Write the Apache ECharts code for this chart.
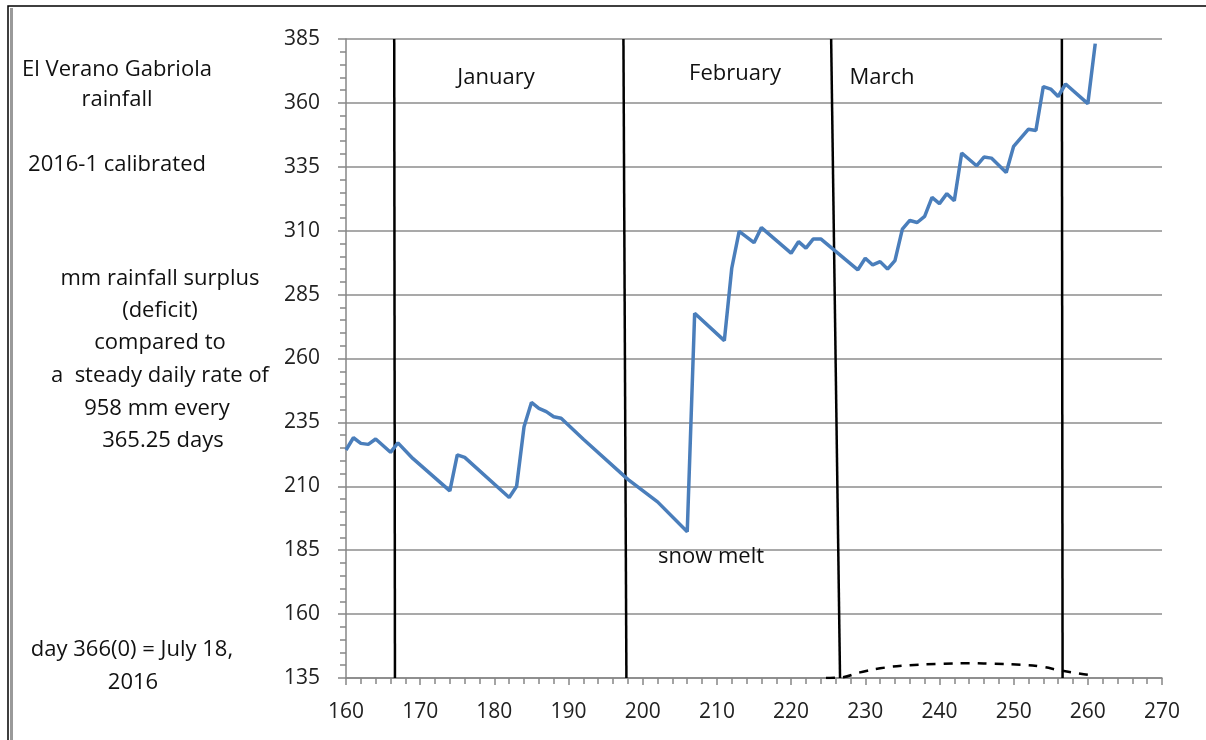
<!DOCTYPE html>
<html>
<head>
<meta charset="utf-8">
<title>El Verano Gabriola rainfall</title>
<script src="https://cdn.jsdelivr.net/npm/echarts@6/dist/echarts.min.js"></script>
<style>
html, body { margin: 0; padding: 0; background: #fff; }
#chart { width: 1206px; height: 740px; }
</style>
</head>
<body>
<div id="chart"></div>
<script>
// day number (day 366(0) = July 18, 2016) and mm surplus, read at the line's corners
var days = [160, 161, 162, 163, 164, 166, 167, 169, 174, 175, 176, 182, 183, 184, 185, 186, 187, 188, 189, 192,
    198, 202, 206, 207, 211, 212, 213, 215, 216, 220, 221, 222, 223, 224, 229, 230, 231, 232, 233, 234,
    235, 236, 237, 238, 239, 240, 241, 242, 243, 245, 246, 247, 249, 250, 252, 253, 254, 255, 256, 257, 260, 261];
var surplus = [224.2, 229, 226.8, 226.4, 228.5, 223.3, 227, 220.9, 208.2, 222.3, 221.3, 205.6, 210, 233.3, 242.8, 240.5, 239.2, 237.2, 236.6, 228.4,
    212.7, 203.9, 192.2, 277.7, 267, 295.3, 309.7, 305.3, 311.2, 301.2, 305.7, 303.2, 306.8, 306.8, 294.7, 299.2, 296.6, 297.9, 295, 298.3,
    310.6, 314, 313.2, 315.6, 323, 320.6, 324.5, 321.7, 340.4, 335.4, 338.8, 338.4, 332.8, 343, 349.7, 349.2, 366.4, 365.4, 362.5, 367.4, 359.7, 383.2];

// dashed curve near the bottom
var dashDays = [224.7, 226.6, 229.3, 232, 236, 240, 244, 247, 251, 253.6, 256.6, 260];
var dashValues = [135, 135.2, 137.2, 138.8, 140, 140.5, 140.8, 140.6, 140.2, 139.5, 137.8, 136.3];

// month boundary lines (slightly slanted in the original)
var monthTopDays = [166.5, 197.4, 225.4, 256.5];
var monthBottomDays = [166.6, 197.8, 226.6, 256.6];
var monthNames = ['January', 'February', 'March'];

var yTicks = [135, 160, 185, 210, 235, 260, 285, 310, 335, 360, 385];

var font = '"Open Sans", "Liberation Sans", sans-serif';
var chart = echarts.init(document.getElementById('chart'));

var series = [];
// vertical month lines
for (var i = 0; i < monthTopDays.length; i++) {
    series.push({
        type: 'line',
        silent: true,
        symbol: 'none',
        z: 3,
        lineStyle: { color: '#000', width: 2.5 },
        data: [[monthTopDays[i], yTicks[yTicks.length - 1]], [monthBottomDays[i], yTicks[0]]]
    });
}
series.push({
    name: 'surplus',
    type: 'line',
    symbol: 'none',
    z: 4,
    lineStyle: { color: '#4a7ebb', width: 3.5 },
    data: days.map(function (d, k) { return [d, surplus[k]]; })
});
series.push({
    type: 'line',
    symbol: 'none',
    smooth: true,
    z: 4,
    lineStyle: { color: '#000', width: 2.5, type: [9, 8] },
    data: dashDays.map(function (d, k) { return [d, dashValues[k]]; })
});

function txt(s, x, y, size) {
    return {
        type: 'text', x: x, y: y, z: 10,
        style: { text: s, fill: '#111', font: (size || 22) + 'px ' + font, textAlign: 'center', textVerticalAlign: 'middle' }
    };
}

var graphics = [
    // window frame on the left/top
    { type: 'rect', shape: { x: 8, y: 6, width: 1400, height: 900 }, style: { fill: 'none', stroke: '#000', lineWidth: 1.5 } },
    { type: 'line', shape: { x1: 11.5, y1: 8, x2: 11.5, y2: 740 }, style: { stroke: '#9a9a9a', lineWidth: 3 } },
    txt('El Verano Gabriola', 117, 70),
    txt('rainfall', 117, 100),
    txt('2016-1 calibrated', 117, 165),
    txt('mm rainfall surplus', 160, 279),
    txt('(deficit)', 160, 311),
    txt('compared to', 160, 343),
    txt('a  steady daily rate of', 160, 376),
    txt('958 mm every', 157, 409),
    txt('365.25 days', 163, 441),
    txt('day 366(0) = July 18,', 132, 650),
    txt('2016', 133, 683),
    txt(monthNames[0], 496, 78),
    txt(monthNames[1], 735, 74),
    txt(monthNames[2], 882, 78),
    txt('snow melt', 711, 557)
];

chart.setOption({
    backgroundColor: '#fff',
    animation: false,
    grid: { left: 346, right: 44, top: 39, bottom: 62, containLabel: false },
    xAxis: {
        type: 'value',
        min: 160,
        max: 270,
        interval: 10,
        axisLine: { show: true, lineStyle: { color: '#868686', width: 1.5 } },
        axisTick: { show: true, length: 7, lineStyle: { color: '#868686', width: 1.5 } },
        minorTick: { show: true, splitNumber: 5, length: 6, lineStyle: { color: '#868686', width: 1.5 } },
        axisLabel: { margin: 24, fontSize: 21, color: '#222', fontFamily: font },
        splitLine: { show: false }
    },
    yAxis: [{
        type: 'value',
        min: yTicks[0],
        max: yTicks[yTicks.length - 1],
        axisLine: { show: true, lineStyle: { color: '#868686', width: 1.5 } },
        axisTick: { show: true, length: 8, customValues: yTicks, lineStyle: { color: '#868686', width: 1.5 } },
        axisLabel: { margin: 26, fontSize: 21, color: '#222', fontFamily: font, customValues: yTicks },
        splitLine: { show: true, lineStyle: { color: '#8c8c8c', width: 1.5 } }
    }, {
        // minor ticks every 5 mm
        type: 'value',
        position: 'left',
        min: yTicks[0],
        max: yTicks[yTicks.length - 1],
        interval: 5,
        axisLine: { show: false },
        axisTick: { show: true, length: 6, lineStyle: { color: '#868686', width: 1.5 } },
        axisLabel: { show: false },
        splitLine: { show: false }
    }],
    graphic: graphics,
    series: series
});
</script>
</body>
</html>
